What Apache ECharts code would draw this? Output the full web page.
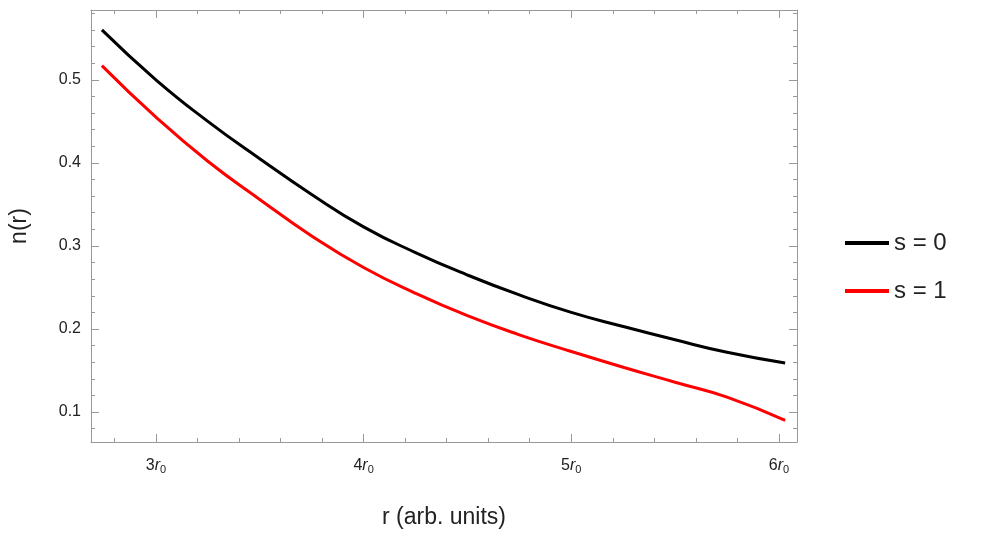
<!DOCTYPE html><html><head><meta charset="utf-8">
<script src="https://cdn.jsdelivr.net/npm/echarts@6/dist/echarts.min.js"></script>
<style>html,body{margin:0;background:#fff}#c{width:981px;height:534px}</style></head><body><div id="c"></div>
<script>
const rValues=[2.74,3,3.25,3.5,3.75,4,4.25,4.5,4.75,5,5.25,5.5,5.75,6.03];
const s0=[0.56,0.50,0.45,0.405,0.362,0.323,0.292,0.265,0.241,0.220,0.203,0.187,0.172,0.159];
const s1=[0.517,0.455,0.402,0.356,0.312,0.274,0.243,0.216,0.193,0.173,0.154,0.136,0.118,0.09];
const xTicks=[3,4,5,6];
const yTicks=[0.1,0.2,0.3,0.4,0.5];
const xMinor=[];for(let v=2.8;v<6.09;v+=0.2)xMinor.push(+v.toFixed(2));
const yMinor=[];for(let v=0.08;v<0.584;v+=0.02)yMinor.push(+v.toFixed(2));
const X0=2.6875,X1=6.087,Y0=0.064,Y1=0.584;
const line={lineStyle:{color:'#999',width:1}};
function xa(pos,vals,len,labels,show){return {type:'value',position:pos,min:X0,max:X1,axisLine:{show:show,...line},splitLine:{show:false},
 axisTick:{inside:true,length:len,customValues:vals,lineStyle:{color:'#999'}},
 axisLabel:{show:labels,customValues:vals,margin:14,formatter:v=>'{n|'+Math.round(v)+'}{i|r}{s|0}',rich:{n:{fontSize:16,fontFamily:'Liberation Sans',color:'#222'},i:{fontSize:16,fontStyle:'italic',fontFamily:'Liberation Sans',color:'#222'},s:{fontSize:11,verticalAlign:'bottom',padding:[8,0,0,0],fontFamily:'Liberation Sans',color:'#222'}}},
 name:labels?'r (arb. units)':'',nameLocation:'middle',nameGap:64,nameTextStyle:{fontSize:23,fontFamily:'Liberation Sans',color:'#222'}};}
function ya(pos,vals,len,labels,show){return {type:'value',position:pos,min:Y0,max:Y1,axisLine:{show:show,...line},splitLine:{show:false},
 axisTick:{inside:true,length:len,customValues:vals,lineStyle:{color:'#999'}},
 axisLabel:{show:labels,customValues:vals,formatter:v=>v.toFixed(1),fontSize:16,fontFamily:'Liberation Sans',color:'#222',margin:10},
 name:labels?'n(r)':'',nameLocation:'middle',nameGap:60,nameTextStyle:{fontSize:23,fontFamily:'Liberation Sans',color:'#222'}};}
const ch=echarts.init(document.getElementById('c'));
ch.setOption({animation:false,
 grid:{left:90,right:184,top:10,bottom:86},
 xAxis:[xa('bottom',xTicks,8,true,true),xa('bottom',xMinor,4,false,false),xa('top',xTicks,8,false,true),xa('top',xMinor,4,false,false)],
 yAxis:[ya('left',yTicks,8,true,true),ya('left',yMinor,4,false,false),ya('right',yTicks,8,false,true),ya('right',yMinor,4,false,false)],
 legend:{orient:'vertical',left:840,top:226,itemWidth:44,itemHeight:4,itemGap:24,icon:'rect',textStyle:{fontSize:24,fontFamily:'Liberation Sans',color:'#222'},data:['s = 0','s = 1']},
 series:[
  {name:'s = 0',type:'line',smooth:0.5,symbol:'none',data:rValues.map((r,i)=>[r,s0[i]]),lineStyle:{color:'#000',width:3},itemStyle:{color:'#000'}},
  {name:'s = 1',type:'line',smooth:0.5,symbol:'none',data:rValues.map((r,i)=>[r,s1[i]]),lineStyle:{color:'#f00',width:3},itemStyle:{color:'#f00'}}
 ]});
</script></body></html>
